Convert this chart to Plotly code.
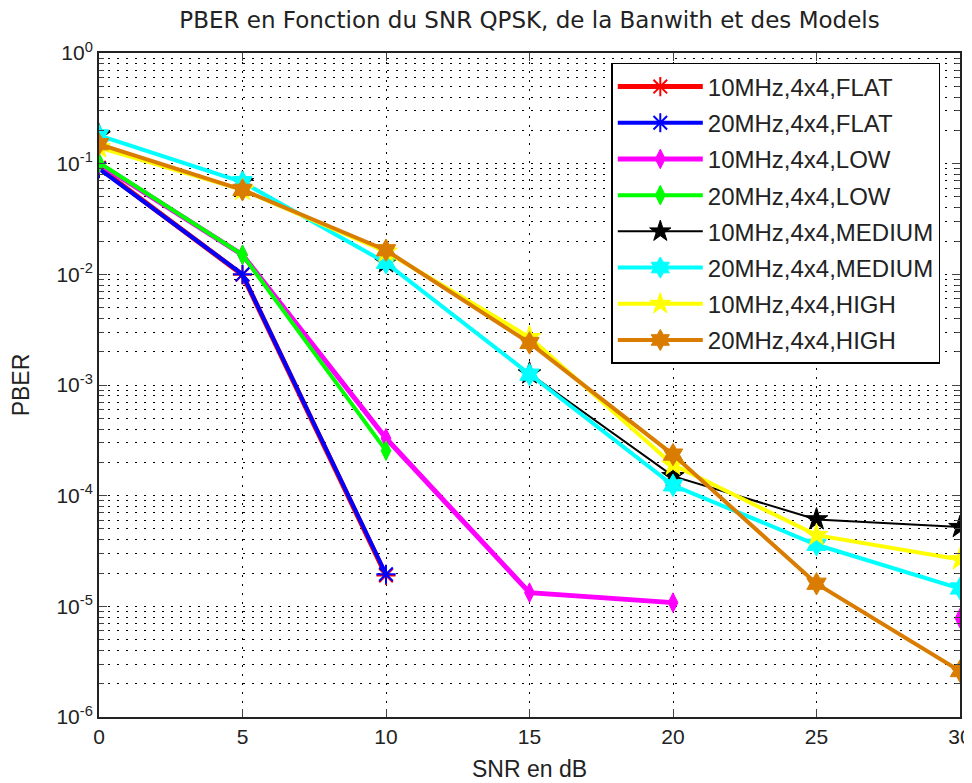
import plotly.graph_objects as go

snr = [0, 5, 10, 15, 20, 25, 30]

flat_10 = [0.092, 0.0099, 1.9e-5, None, None, None, None]
flat_20 = [0.090, 0.0100, 1.95e-5, None, None, None, None]
low_10 = [0.100, 0.0150, 3.3e-4, 1.33e-5, 1.08e-5, None, 7.8e-6]
low_20 = [0.102, 0.0150, 2.55e-4, None, None, None, None]
med_10 = [0.180, 0.068, 0.0128, 1.27e-3, 1.5e-4, 6.1e-5, 5.2e-5]
med_20 = [0.180, 0.068, 0.0127, 1.24e-3, 1.24e-4, 3.6e-5, 1.45e-5]
high_10 = [0.140, 0.058, 0.0160, 2.7e-3, 1.9e-4, 4.4e-5, 2.65e-5]
high_20 = [0.150, 0.058, 0.0165, 2.4e-3, 2.35e-4, 1.6e-5, 2.6e-6]

names = ["10MHz,4x4,FLAT", "20MHz,4x4,FLAT", "10MHz,4x4,LOW", "20MHz,4x4,LOW",
         "10MHz,4x4,MEDIUM", "20MHz,4x4,MEDIUM", "10MHz,4x4,HIGH", "20MHz,4x4,HIGH"]
series = [flat_10, flat_20, low_10, low_20, med_10, med_20, high_10, high_20]
colors = ["#FF0000", "#0000FF", "#FF00FF", "#00FF00", "#000000", "#00FFFF", "#FFFF00", "#D97C00"]
symbols = ["asterisk-open", "asterisk-open", "diamond-tall", "diamond-tall",
           "star", "hexagram", "star", "hexagram"]
widths = [5, 4, 5, 4, 2, 4, 4, 4]
msizes = [16, 16, 14, 14, 17, 17, 17, 17]

fig = go.Figure()
for i, (n, s) in enumerate(zip(names, series)):
    is_ast = symbols[i].startswith("asterisk")
    fig.add_trace(go.Scatter(
        x=snr, y=s, name=n, mode="lines+markers", legendgroup=f"g{i}",
        line=dict(color=colors[i], width=widths[i]),
        marker=dict(symbol=symbols[i], size=msizes[i], color=colors[i],
                    line=dict(color=colors[i], width=2 if is_ast else 1)),
    ))

ymaj = [10.0 ** k for k in range(-6, 1)]
ytxt = ["10<sup>%d</sup>" % k for k in range(-6, 1)]
yminor = [m * 10.0 ** k for k in range(-6, 0) for m in range(2, 10)]

font = "Liberation Sans, Arial, sans-serif"
txtc = "#222222"
fig.update_layout(
    width=964, height=775,
    margin=dict(l=91, r=12, t=45, b=66),
    paper_bgcolor="white", plot_bgcolor="white",
    font=dict(family=font, size=21, color=txtc),
    title=dict(text="PBER en Fonction du SNR QPSK, de la Banwith et des Models",
               xref="paper", x=0.5, xanchor="center", y=0.9845, yanchor="middle",
               font=dict(size=23, family="DejaVu Sans", color=txtc)),
    showlegend=True,
    legend=dict(x=0.595, y=0.985, xanchor="left", yanchor="top",
                bgcolor="white", bordercolor="black", borderwidth=1.5,
                font=dict(size=24, family=font, color=txtc),
                itemwidth=85, tracegroupgap=2),
    xaxis=dict(range=[0, 30], tickvals=snr, ticks="inside", ticklen=8,
               showline=True, linecolor=txtc, linewidth=2, mirror="ticks",
               showgrid=True, gridcolor="black", griddash="2px,7px", gridwidth=1,
               zeroline=False, automargin=False,
               title=dict(text="SNR en dB", standoff=14, font=dict(size=23)),
               tickfont=dict(size=21)),
    yaxis=dict(type="log", range=[-6, 0], tickvals=ymaj, ticktext=ytxt,
               ticks="inside", ticklen=8,
               showline=True, linecolor=txtc, linewidth=2, mirror="ticks",
               showgrid=True, gridcolor="black", griddash="2px,7px", gridwidth=1,
               zeroline=False, automargin=False,
               title=dict(text="PBER", standoff=20, font=dict(size=23)),
               tickfont=dict(size=21),
               minor=dict(tickvals=yminor, ticks="inside", ticklen=5,
                          showgrid=True, gridcolor="black", griddash="2px,7px",
                          gridwidth=1)),
)

fig.write_html("out.html")
